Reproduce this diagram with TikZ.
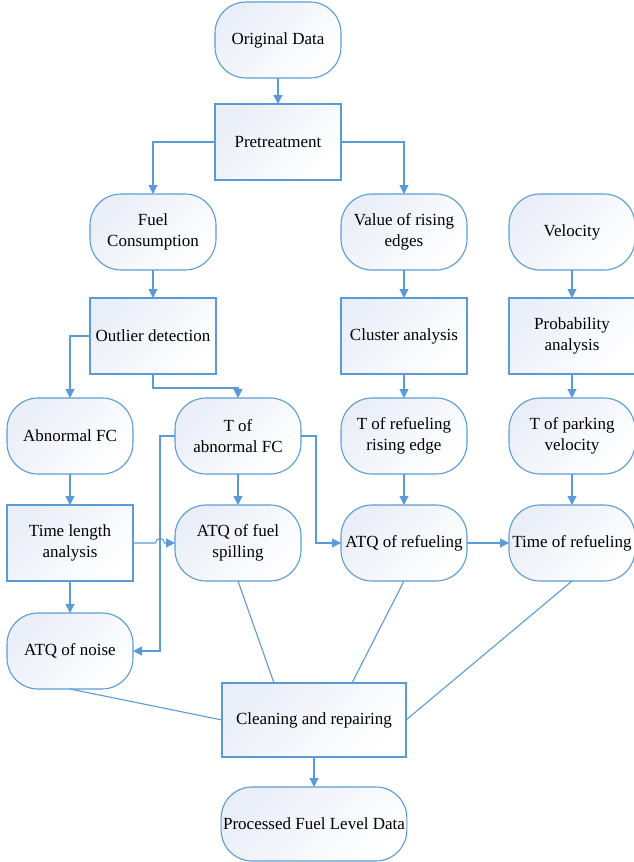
\documentclass[tikz,border=0pt]{standalone}
\usepackage{fontspec}
\setmainfont{Liberation Serif}
\usetikzlibrary{arrows.meta}
\definecolor{edge}{RGB}{91,155,213}
\definecolor{shade}{RGB}{234,238,248}
\tikzset{
  base/.style={draw=edge, line width=1.1pt, top color=shade, bottom color=white, shading angle=45,
    minimum width=126pt, minimum height=76pt, align=center, inner sep=2pt, outer sep=0pt,
    font=\fontsize{17}{21}\selectfont},
  term/.style={base, rounded corners=31pt},
  proc/.style={base},
  conn/.style={draw=edge, line width=1.1pt, -{Triangle[length=9pt,width=9pt]}},
  plain/.style={draw=edge, line width=1.1pt}
}
\begin{document}
\begin{tikzpicture}[x=1pt,y=-1pt]
\useasboundingbox (0,0) rectangle (634,862);
\node[term] (orig) at (278,40) {Original Data};
\node[proc] (pre) at (278,142) {Pretreatment};
\node[term] (fuel) at (153,232) {Fuel\\Consumption};
\node[term] (rise) at (404,232) {Value of rising\\edges};
\node[term] (vel) at (572,232) {Velocity};
\node[proc] (outl) at (153,336) {Outlier detection};
\node[proc] (clus) at (404,336) {Cluster analysis};
\node[proc] (prob) at (572,336) {Probability\\analysis};
\node[term] (abn) at (70,436) {Abnormal FC};
\node[term] (tabn) at (238,436) {T of\\abnormal FC};
\node[term] (tref) at (404,436) {T of refueling\\rising edge};
\node[term] (tpark) at (572,436) {T of parking\\velocity};
\node[proc] (tla) at (70,543) {Time length\\analysis};
\node[term] (spill) at (238,543) {ATQ of fuel\\spilling};
\node[term] (aref) at (404,543) {ATQ of refueling};
\node[term] (timeref) at (572,543) {Time of refueling};
\node[term] (noise) at (70,651) {ATQ of noise};
\node[proc, minimum width=184pt, minimum height=74pt] (clean) at (314,720) {Cleaning and repairing};
\node[term, minimum width=184pt, minimum height=74pt] (proc) at (314,824) {Processed Fuel Level Data};

\draw[conn] (orig) -- (pre);
\draw[conn] (pre.west) -| (fuel.north);
\draw[conn] (pre.east) -| (rise.north);
\draw[conn] (fuel) -- (outl);
\draw[conn] (rise) -- (clus);
\draw[conn] (vel) -- (prob);
\draw[conn] (outl.west) -| (abn.north);
\coordinate (o1) at (153,388);
\draw[conn] (outl.south) -- (o1) -| (tabn.north);
\draw[conn] (clus) -- (tref);
\draw[conn] (prob) -- (tpark);
\draw[conn] (abn) -- (tla);
\draw[conn] (tabn) -- (spill);
\draw[conn] (tref) -- (aref);
\draw[conn] (tpark) -- (timeref);
\draw[conn] (tla) -- (noise);
\draw[conn] (aref) -- (timeref);
\coordinate (l1) at (160,436);
\coordinate (l2) at (160,651);
\draw[conn] (tabn.west) -- (l1) -- (l2) -- (noise.east);
\coordinate (r1) at (316,436);
\coordinate (r2) at (316,543);
\draw[conn] (tabn.east) -- (r1) -- (r2) -- (aref.west);
\coordinate (h1) at (155.5,543);
\coordinate (h2) at (164.5,543);
\draw[conn] (tla.east) -- (h1) .. controls (155.5,537) and (164.5,537) .. (h2) -- (spill.west);
\coordinate (c1) at (274,683);
\coordinate (c2) at (352,683);
\draw[plain] (spill.south) -- (c1);
\draw[plain] (aref.south) -- (c2);
\draw[plain] (timeref.south) -- (clean.east);
\draw[plain] (noise.south) -- (clean.west);
\draw[conn] (clean) -- (proc);
\end{tikzpicture}
\end{document}
